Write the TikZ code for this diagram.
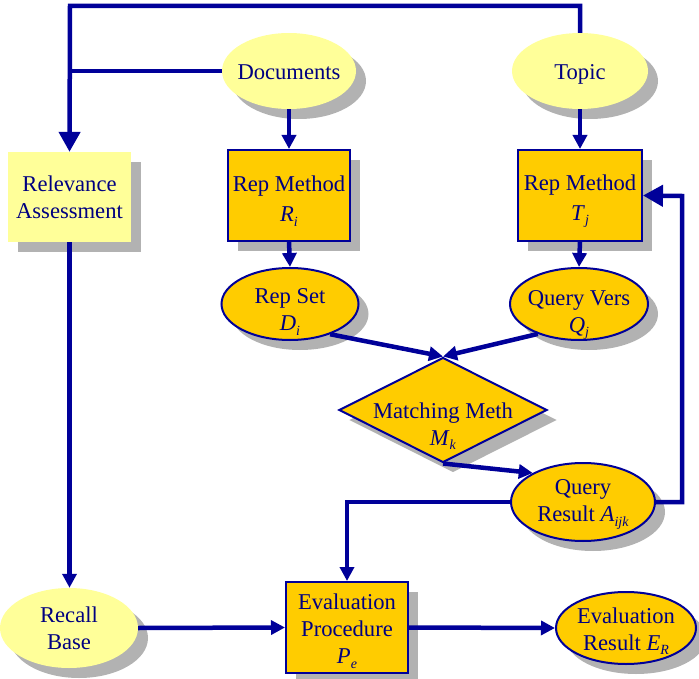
\documentclass[tikz,border=0pt]{standalone}
\usepackage{fontspec}
\setmainfont{Liberation Serif}
\usetikzlibrary{shapes.geometric,shadows,arrows.meta,calc}
\definecolor{ly}{HTML}{FFFF99}
\definecolor{og}{HTML}{FFCC00}
\definecolor{sg}{HTML}{B2B2B2}
\definecolor{nv}{HTML}{000099}
\definecolor{tx}{HTML}{000080}
\newcommand\subv[2]{\textit{#1}\raisebox{-0.45ex}{\fontsize{14}{14}\selectfont\textit{#2}}}
\begin{document}
\begin{tikzpicture}[x=1pt,y=-1pt,
 txt/.style={font=\fontsize{22.6}{27}\selectfont, text=tx, align=center, inner sep=0pt},
 shd/.style={drop shadow={shadow xshift=10pt,shadow yshift=-10pt,fill=sg,opacity=1}},
 lyell/.style={ellipse,fill=ly,shd,inner sep=0pt},
 ogell/.style={ellipse,fill=og,draw=nv,line width=2pt,shd,inner sep=0pt},
 lybox/.style={rectangle,fill=ly,shd,inner sep=0pt},
 ogbox/.style={rectangle,fill=og,draw=nv,line width=2pt,shd,inner sep=0pt},
 ogdia/.style={diamond,fill=og,draw=nv,line width=2pt,shd,inner sep=0pt},
 conn/.style={draw=nv,line width=4.5pt},
 arr/.style={conn,-{Triangle[length=14pt,width=14pt]}},
 barr/.style={conn,-{Triangle[length=20pt,width=21pt]}},
]
\useasboundingbox (0,0) rectangle (699,679);

% shapes
\node[lyell,minimum width=134pt,minimum height=76pt] (doc) at (289,71) {};
\node[lyell,minimum width=136pt,minimum height=76pt] (tp) at (580,71) {};
\node[lybox,minimum width=123pt,minimum height=90pt] (ra) at (69.5,197) {};
\node[ogbox,minimum width=122pt,minimum height=91pt] (ri) at (289,195.5) {};
\node[ogbox,minimum width=124pt,minimum height=91pt] (tj) at (580,195.5) {};
\node[ogell,minimum width=137pt,minimum height=72pt] (rs) at (290,304) {};
\node[ogell,minimum width=138pt,minimum height=72pt] (qv) at (579,304) {};
\node[ogdia,minimum width=208pt,minimum height=105pt] (mm) at (443,410) {};
\node[ogell,minimum width=144pt,minimum height=78pt] (qr) at (583,502) {};
\node[lyell,minimum width=138pt,minimum height=80pt] (rb) at (69,628) {};
\node[ogbox,minimum width=122pt,minimum height=91pt] (ep) at (347,627.5) {};
\node[ogell,minimum width=140pt,minimum height=72pt] (er) at (626,628) {};

% texts
\node[txt] (doc-t) at (289,72) {Documents};
\node[txt] (tp-t) at (580,74.5) {Topic};
\node[txt] (ra-t) at (69.5,197.5) {Relevance\\Assessment};
\node[txt,font=\fontsize{22.6}{30}\selectfont] (ri-t) at (289,201) {Rep Method\\\subv{R}{i}};
\node[txt,font=\fontsize{22.6}{30}\selectfont] (tj-t) at (580,201) {Rep Method\\\subv{T}{j}};
\node[txt] (rs-t) at (290,312) {Rep Set\\\subv{D}{i}};
\node[txt] (qv-t) at (579,315) {Query Vers\\\subv{Q}{j}};
\node[txt] (mm-t) at (443,426) {Matching Meth\\\subv{M}{k}};
\node[txt] (qr-t) at (583,504.5) {Query\\Result \subv{A}{ijk}};
\node[txt] (rb-t) at (69,628) {Recall\\Base};
\node[txt] (ep-t) at (347,631) {Evaluation\\Procedure\\\subv{P}{e}};
\node[txt] (er-t) at (626,631) {Evaluation\\Result \subv{E}{R}};

% connectors
\coordinate (tl) at (70,6);
\coordinate (lp) at (682,196);
\draw[barr] (tp.north) |- (tl) -- (ra.north);
\draw[conn] (doc.west) -- (doc.west -| ra.north);
\draw[arr] (doc.south) -- (ri.north);
\draw[arr] (tp.south) -- (tj.north);
\draw[arr] (ri.south) -- (rs.north);
\draw[arr] (tj.south) -- (qv.north);
\draw[arr] (rs.-37) -- (mm.north);
\draw[arr] (qv.-144) -- (mm.north);
\draw[arr] (mm.south) -- (qr.150);
\draw[barr] (qr.east) -| (lp) -- (tj.east);
\draw[arr] (qr.west) -| (ep.north);
\draw[arr] (ra.south) -- (ra.south |- rb.north);
\draw[arr] (rb.east) -- (ep.west);
\draw[arr] (ep.east) -- (er.west);
\end{tikzpicture}
\end{document}
